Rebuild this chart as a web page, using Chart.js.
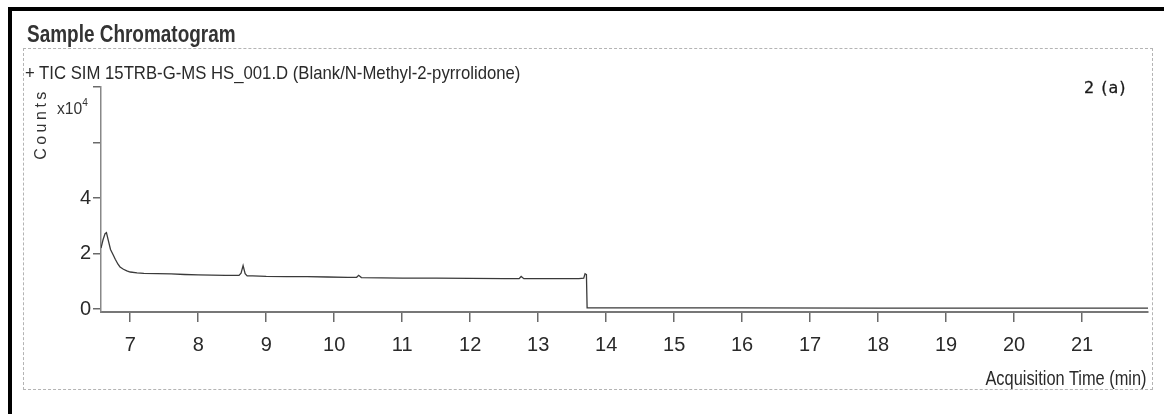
<!DOCTYPE html>
<html>
<head>
<meta charset="utf-8">
<script src="https://cdn.jsdelivr.net/npm/chart.js@4.4.0/dist/chart.umd.min.js"></script>
<style>
  html, body { margin: 0; padding: 0; background: #fff; }
  #wrap { position: relative; width: 1164px; height: 414px; overflow: hidden; background: #fff; }
  #frameTop { position: absolute; left: 8px; top: 7px; width: 1156px; height: 4px; background: #000; }
  #frameLeft { position: absolute; left: 8px; top: 7px; width: 4px; height: 407px; background: #000; }
  #box { position: absolute; left: 23px; top: 48px; width: 1128px; height: 340px; border: 1px dashed #b4b4b4; }
  .t { position: absolute; white-space: nowrap; color: #2a2a2a; }
  #title { left: 27px; top: 20px; font: bold 24px "Liberation Sans", sans-serif; color: #333; transform: scaleX(0.79); transform-origin: 0 0; }
  #sub { left: 25px; top: 62px; font: 19px "Liberation Sans", sans-serif; transform: scaleX(0.88); transform-origin: 0 0; }
  #xtitle { right: 17px; top: 366px; font: 21px "Liberation Sans", sans-serif; transform: scaleX(0.78); transform-origin: 100% 0; }
  #tag { left: 1084px; top: 78px; font: 16px "DejaVu Sans", sans-serif; color: #1a1a1a; letter-spacing: 1px; -webkit-text-stroke: 0.3px #1a1a1a; }
  #counts { left: 41px; top: 124px; font: 16px "Liberation Sans", sans-serif; letter-spacing: 3.5px; transform: translate(-50%, -50%) rotate(-90deg); color: #333; }
  #mult { left: 57px; top: 97px; font: 17px "Liberation Sans", sans-serif; color: #333; transform: scaleX(0.92); transform-origin: 0 0; }
  #mult sup { font-size: 11px; position: relative; top: -1px; }
  canvas { position: absolute; left: 0; top: 0; }
</style>
</head>
<body>
<div id="wrap">
  <canvas id="c" width="1164" height="414"></canvas>
  <div id="frameTop"></div>
  <div id="frameLeft"></div>
  <div id="box"></div>
  <div class="t" id="title">Sample Chromatogram</div>
  <div class="t" id="sub">+ TIC SIM 15TRB-G-MS HS_001.D (Blank/N-Methyl-2-pyrrolidone)</div>
  <div class="t" id="tag">2 (a)</div>
  <div class="t" id="counts">Counts</div>
  <div class="t" id="mult">x10<sup>4</sup></div>
  <div class="t" id="xtitle">Acquisition Time (min)</div>
</div>
<script>
// Acquisition time (min)
const times = [6.57, 6.60, 6.63, 6.65, 6.68, 6.71, 6.75, 6.78, 6.82, 6.85, 6.90, 6.95, 7.00, 7.10, 7.20, 7.40, 7.60, 7.80, 8.00, 8.20, 8.40, 8.60, 8.63, 8.66, 8.69, 8.72, 8.80, 9.00, 9.30, 9.60, 9.90, 10.20, 10.33, 10.36, 10.40, 10.70, 11.00, 11.50, 12.00, 12.50, 12.72, 12.75, 12.79, 13.00, 13.30, 13.60, 13.67, 13.69, 13.71, 13.72, 14.00, 16.00, 18.00, 20.00, 21.97];
// Counts (x10^4)
const counts = [2.20, 2.50, 2.72, 2.76, 2.45, 2.15, 1.95, 1.80, 1.62, 1.52, 1.44, 1.38, 1.34, 1.31, 1.29, 1.28, 1.27, 1.25, 1.24, 1.23, 1.22, 1.22, 1.30, 1.57, 1.28, 1.20, 1.20, 1.18, 1.17, 1.17, 1.16, 1.15, 1.15, 1.22, 1.14, 1.13, 1.12, 1.12, 1.11, 1.10, 1.10, 1.18, 1.10, 1.10, 1.10, 1.10, 1.12, 1.28, 1.25, 0.05, 0.05, 0.05, 0.04, 0.04, 0.04];
const xTicks = [7, 8, 9, 10, 11, 12, 13, 14, 15, 16, 17, 18, 19, 20, 21];
const yTicks = [0, 2, 4, 6, 8];
const yTickLabels = ["0", "2", "4", "", ""];

const points = times.map((t, i) => ({ x: t, y: counts[i] }));
const tickFont = { family: "'Liberation Sans', sans-serif", size: 20 };

new Chart(document.getElementById('c'), {
  type: 'line',
  data: {
    datasets: [{
      data: points,
      borderColor: '#3a3a3a',
      borderWidth: 1.3,
      pointRadius: 0,
      tension: 0,
      fill: false
    }]
  },
  options: {
    responsive: false,
    animation: false,
    devicePixelRatio: 1,
    layout: { padding: { left: 79, right: 16, top: 87, bottom: 22 } },
    plugins: { legend: { display: false }, tooltip: { enabled: false }, title: { display: false } },
    scales: {
      x: {
        type: 'linear',
        min: 6.57,
        max: 21.97,
        afterBuildTicks: s => { s.ticks = xTicks.map(v => ({ value: v })); },
        afterFit: s => { s.height = 80; },
        ticks: { color: '#2a2a2a', font: tickFont, padding: 11, maxRotation: 0, autoSkip: false, callback: v => String(v) },
        grid: { drawOnChartArea: false, drawTicks: true, tickLength: 10, color: '#6a6a6a', lineWidth: 1.5 },
        border: { display: true, color: '#777', width: 2 },
        title: { display: false }
      },
      y: {
        type: 'linear',
        min: -0.1,
        max: 8,
        afterBuildTicks: s => { s.ticks = yTicks.map(v => ({ value: v })); },
        afterFit: s => { s.width = 22; },
        ticks: { color: '#2a2a2a', font: tickFont, padding: 2, callback: (v, i) => yTickLabels[i] },
        grid: { drawOnChartArea: false, drawTicks: true, tickLength: 8, color: '#6a6a6a', lineWidth: 1.5 },
        border: { display: true, color: '#888', width: 1.5 }
      }
    }
  }
});
</script>
</body>
</html>
